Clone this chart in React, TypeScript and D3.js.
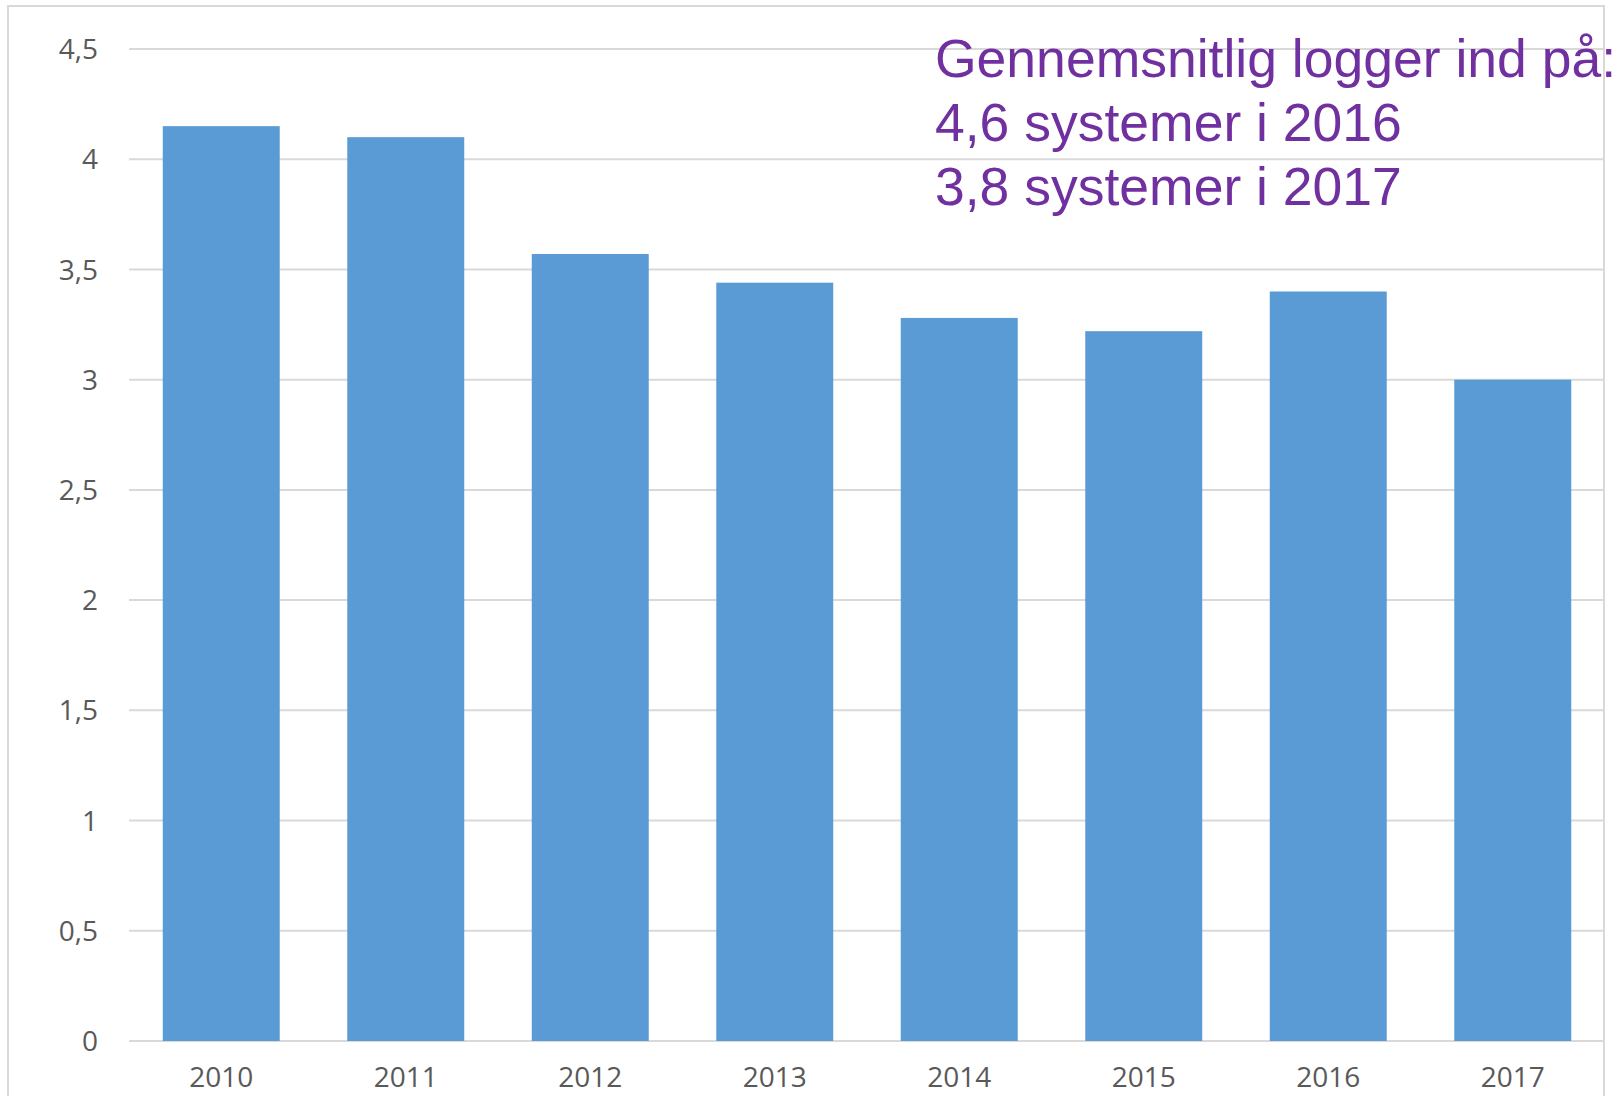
import React from "react";
import * as d3 from "d3";

const categories = ["2010", "2011", "2012", "2013", "2014", "2015", "2016", "2017"];
const values = [4.15, 4.1, 3.57, 3.44, 3.28, 3.22, 3.4, 3.0];
const yTicks = [0, 0.5, 1, 1.5, 2, 2.5, 3, 3.5, 4, 4.5];
const annotationLines = [
  "Gennemsnitlig logger ind på:",
  "4,6 systemer i 2016",
  "3,8 systemer i 2017",
];

const W = 1616;
const H = 1096;
const plotLeft = 129;
const plotRight = 1605;
const plotTop = 49;
const plotBottom = 1041;

export default function App() {
  const x = d3
    .scaleBand<string>()
    .domain(categories)
    .range([plotLeft, plotRight])
    .paddingInner(0.366)
    .paddingOuter(0.183);
  const y = d3.scaleLinear().domain([0, 4.5]).range([plotBottom, plotTop]);
  const fmt = (v: number) => String(v).replace(".", ",");
  const axisFont = "'Open Sans', 'Noto Sans', sans-serif";

  return (
    <svg
      width={W}
      height={H}
      style={{ position: "absolute", left: 0, top: 0, background: "#fff" }}
    >
      <rect x={0} y={0} width={W} height={H} fill="#fff" />
      <rect x={8} y={6} width={1596} height={H + 10} fill="none" stroke="#D9D9D9" strokeWidth={2} />
      {yTicks.map((t) => (
        <line
          key={"g" + t}
          x1={plotLeft}
          x2={plotRight - 1}
          y1={y(t)}
          y2={y(t)}
          stroke="#D9D9D9"
          strokeWidth={2}
        />
      ))}
      {categories.map((c, i) => (
        <rect
          key={c}
          x={x(c)}
          y={y(values[i])}
          width={x.bandwidth()}
          height={y(0) - y(values[i])}
          fill="#5B9BD5"
        />
      ))}
      {yTicks.map((t) => (
        <text
          key={"t" + t}
          x={98}
          y={y(t)}
          dy="0.36em"
          textAnchor="end"
          fontFamily={axisFont}
          fontSize={28}
          fill="#595959"
        >
          {fmt(t)}
        </text>
      ))}
      {categories.map((c) => (
        <text
          key={"x" + c}
          x={(x(c) as number) + x.bandwidth() / 2}
          y={1087}
          textAnchor="middle"
          fontFamily={axisFont}
          fontSize={28}
          fill="#595959"
        >
          {c}
        </text>
      ))}
      {annotationLines.map((l, i) => (
        <text
          key={"a" + i}
          x={935}
          y={77 + i * 64}
          fontFamily="'Liberation Sans', Arial, sans-serif"
          fontSize={53.5}
          fill="#7030A0"
        >
          {l}
        </text>
      ))}
    </svg>
  );
}
